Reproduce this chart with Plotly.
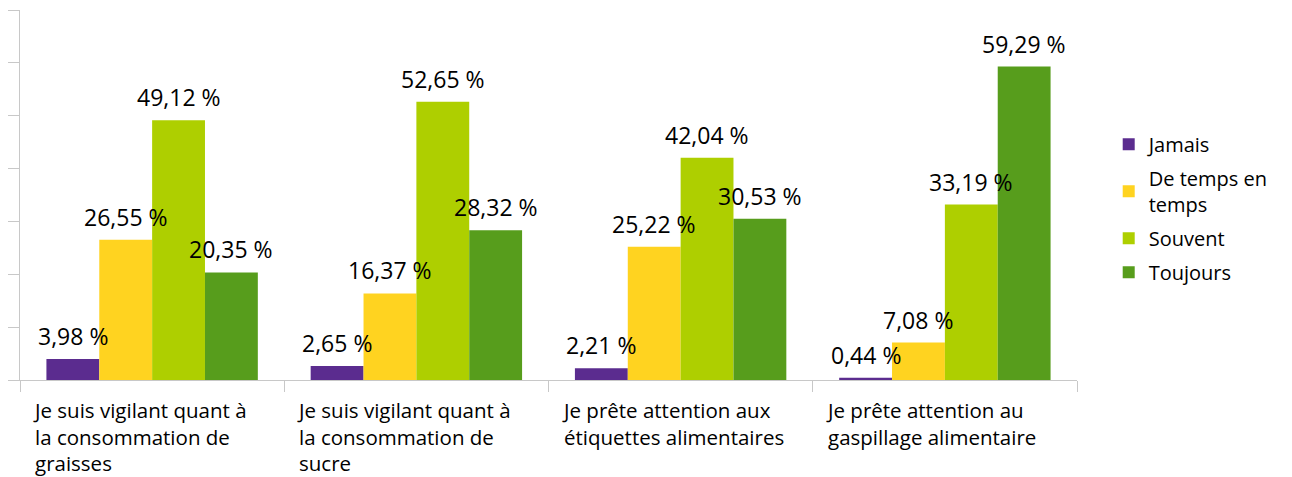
import plotly.graph_objects as go

categories = [
    "Je suis vigilant quant à<br>la consommation de<br>graisses",
    "Je suis vigilant quant à<br>la consommation de<br>sucre",
    "Je prête attention aux<br>étiquettes alimentaires",
    "Je prête attention au<br>gaspillage alimentaire",
]
series_names = ["Jamais", "De temps en<br>temps", "Souvent", "Toujours"]
jamais = [3.98, 2.65, 2.21, 0.44]
de_temps = [26.55, 16.37, 25.22, 7.08]
souvent = [49.12, 52.65, 42.04, 33.19]
toujours = [20.35, 28.32, 30.53, 59.29]
colors = ["#5b2c8f", "#ffd320", "#aecf00", "#579d1c"]

FONT = "Open Sans"
BARGAP = 0.2
all_series = [jamais, de_temps, souvent, toujours]
n_series = len(all_series)

fig = go.Figure()
for k, (name, vals, col) in enumerate(zip(series_names, all_series, colors)):
    fig.add_trace(go.Bar(
        x=list(range(len(categories))), y=vals, name=name,
        marker_color=col, marker_line_width=0, legendgroup="g%d" % k,
    ))

# value labels drawn above all bars so neighbouring bars never cover them
slot = (1 - BARGAP) / n_series
for k, vals in enumerate(all_series):
    for i, v in enumerate(vals):
        fig.add_annotation(
            x=i - (1 - BARGAP) / 2 + slot * (k + 0.5), y=v, xref="x", yref="y",
            text=("%.2f %%" % v).replace(".", ","), showarrow=False,
            xanchor="center", yanchor="bottom", yshift=5,
            font=dict(family=FONT, size=23, color="#000000"),
        )

# category labels, left-aligned inside each category slot
for i, lab in enumerate(categories):
    fig.add_annotation(
        x=i - 0.5, y=0, xref="x", yref="y", text=lab, showarrow=False,
        xanchor="left", yanchor="top", align="left", xshift=11, yshift=-14,
        font=dict(family=FONT, size=20.5, color="#000000"),
    )

fig.update_layout(
    width=1292, height=477,
    margin=dict(l=20, r=215, t=10, b=97),
    paper_bgcolor="white", plot_bgcolor="white",
    barmode="group", bargap=BARGAP, bargroupgap=0,
    font=dict(family=FONT, size=20, color="#000000"),
    showlegend=True,
    legend=dict(x=1.03, y=0.69, xanchor="left", yanchor="top",
                font=dict(family=FONT, size=20), traceorder="grouped",
                tracegroupgap=5, itemwidth=30, bgcolor="rgba(0,0,0,0)"),
)
fig.update_xaxes(
    type="linear", range=[-0.5, len(categories) - 0.5],
    tickmode="array", tickvals=[i - 0.5 for i in range(len(categories) + 1)],
    showticklabels=False, showline=True, linecolor="#c8c8c8", linewidth=1,
    ticks="outside", ticklen=11, tickcolor="#c8c8c8",
    showgrid=False, zeroline=False,
)
fig.update_yaxes(
    range=[0, 70], dtick=10, showticklabels=False, showline=True,
    linecolor="#c8c8c8", linewidth=1, ticks="outside", ticklen=11,
    tickcolor="#c8c8c8", showgrid=False, zeroline=False,
)

fig.write_html("out.html")
